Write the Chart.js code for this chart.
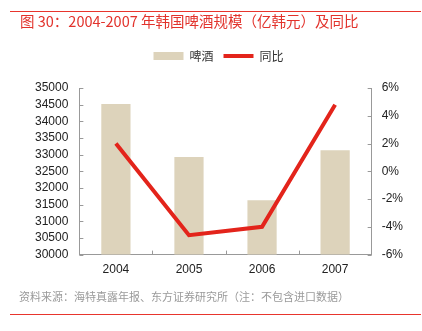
<!DOCTYPE html>
<html>
<head>
<meta charset="utf-8">
<script src="https://cdn.jsdelivr.net/npm/chart.js@4"></script>
<style>
  body { margin: 0; background: #fff; }
  #wrap { position: relative; width: 422px; height: 331px; }
  #chart { position: absolute; left: 0; top: 0; }
  .rule { position: absolute; left: 10px; width: 411px; height: 1px; background: #e8352d; }
  #title { position: absolute; left: 20px; top: 10px; font: 14.5px "Noto Sans CJK SC", sans-serif; color: #e2332c; white-space: nowrap; }
  #source { position: absolute; left: 19px; top: 288px; font: 11px "Noto Sans CJK SC", sans-serif; color: #9a9a9a; white-space: nowrap; }
</style>
</head>
<body>
<div id="wrap">
  <canvas id="chart" width="422" height="331"></canvas>
  <div class="rule" style="top:11px"></div>
  <div id="title">图 30：2004-2007 年韩国啤酒规模（亿韩元）及同比</div>
  <div id="source">资料来源：海特真露年报、东方证券研究所（注：不包含进口数据）</div>
  <div class="rule" style="top:314px"></div>
</div>
<script>
var years = ['2004', '2005', '2006', '2007'];
var beer = [34520, 32930, 31630, 33130];
var yoy = [2.0, -4.6, -4.0, 4.8];

var beerColor = '#ddd3bb';
var lineColor = '#e3241b';
var axisColor = '#999999';

// small inward tick marks, like the original
var innerTicks = {
  id: 'innerTicks',
  afterDraw: function(chart){
    var ctx = chart.ctx;
    var x = chart.scales.x, y = chart.scales.y, y1 = chart.scales.y1;
    ctx.save();
    ctx.strokeStyle = axisColor;
    ctx.lineWidth = 1;
    ctx.beginPath();
    y.ticks.forEach(function(t, i){
      var p = Math.round(y.getPixelForTick(i)) + 0.5;
      ctx.moveTo(x.left, p); ctx.lineTo(x.left + 4, p);
    });
    y1.ticks.forEach(function(t, i){
      var p = Math.round(y1.getPixelForTick(i)) + 0.5;
      ctx.moveTo(x.right, p); ctx.lineTo(x.right - 4, p);
    });
    for (var i = 0; i < years.length - 1; i++) {
      var b = Math.round((x.getPixelForValue(i) + x.getPixelForValue(i + 1)) / 2) + 0.5;
      ctx.moveTo(b, y.bottom); ctx.lineTo(b, y.bottom - 4);
    }
    ctx.stroke();
    ctx.restore();
  }
};

// extra room under the legend
var legendGap = {
  id: 'legendGap',
  beforeInit: function(chart){
    var fit = chart.legend.fit;
    chart.legend.fit = function(){
      fit.bind(chart.legend)();
      this.height += 16;
    };
  }
};

var canvas = document.getElementById('chart').getContext('2d');
window.combo = new Chart(canvas, {
  data: {
    labels: years,
    datasets: [{
      type: 'line',
      label: '同比',
      data: yoy,
      yAxisID: 'y1',
      borderColor: lineColor,
      backgroundColor: lineColor,
      borderWidth: 4,
      pointRadius: 0,
      tension: 0,
      order: 0
    }, {
      type: 'bar',
      label: '啤酒',
      data: beer,
      yAxisID: 'y',
      backgroundColor: beerColor,
      borderWidth: 0,
      categoryPercentage: 1,
      barPercentage: 0.4,
      order: 1
    }]
  },
  options: {
    responsive: false,
    animation: false,
    layout: { padding: { top: 40, left: 24, right: 9, bottom: 46 } },
    plugins: {
      tooltip: { enabled: false },
      legend: {
        reverse: true,
        labels: {
          usePointStyle: true,
          pointStyleWidth: 30,
          boxHeight: 8,
          color: '#333',
          font: { family: '"Noto Sans CJK SC", sans-serif', size: 12 },
          generateLabels: function(chart){
            return chart.data.datasets.map(function(ds, i){
              return {
                text: ds.label,
                datasetIndex: i,
                fillStyle: ds.backgroundColor,
                strokeStyle: ds.type === 'line' ? ds.borderColor : ds.backgroundColor,
                lineWidth: ds.type === 'line' ? 4 : 0,
                pointStyle: ds.type === 'line' ? 'line' : 'rect',
                fontColor: '#333'
              };
            });
          }
        }
      }
    },
    scales: {
      x: {
        grid: { display: false, drawTicks: false },
        border: { display: true, color: axisColor },
        ticks: { color: '#222', padding: 8, font: { family: 'Liberation Sans, Arial', size: 12 } }
      },
      y: {
        position: 'left',
        min: 30000, max: 35000,
        grid: { drawOnChartArea: false, drawTicks: false },
        border: { display: true, color: axisColor },
        ticks: {
          stepSize: 500, autoSkip: false, color: '#222', padding: 11,
          font: { family: 'Liberation Sans, Arial', size: 12 },
          callback: function(v){ return String(v); }
        }
      },
      y1: {
        position: 'right',
        min: -6, max: 6,
        grid: { drawOnChartArea: false, drawTicks: false },
        border: { display: true, color: axisColor },
        ticks: {
          stepSize: 2, autoSkip: false, color: '#222', padding: 10,
          font: { family: 'Liberation Sans, Arial', size: 12 },
          callback: function(v){ return v + '%'; }
        }
      }
    }
  },
  plugins: [innerTicks, legendGap]
});
</script>
</body>
</html>
